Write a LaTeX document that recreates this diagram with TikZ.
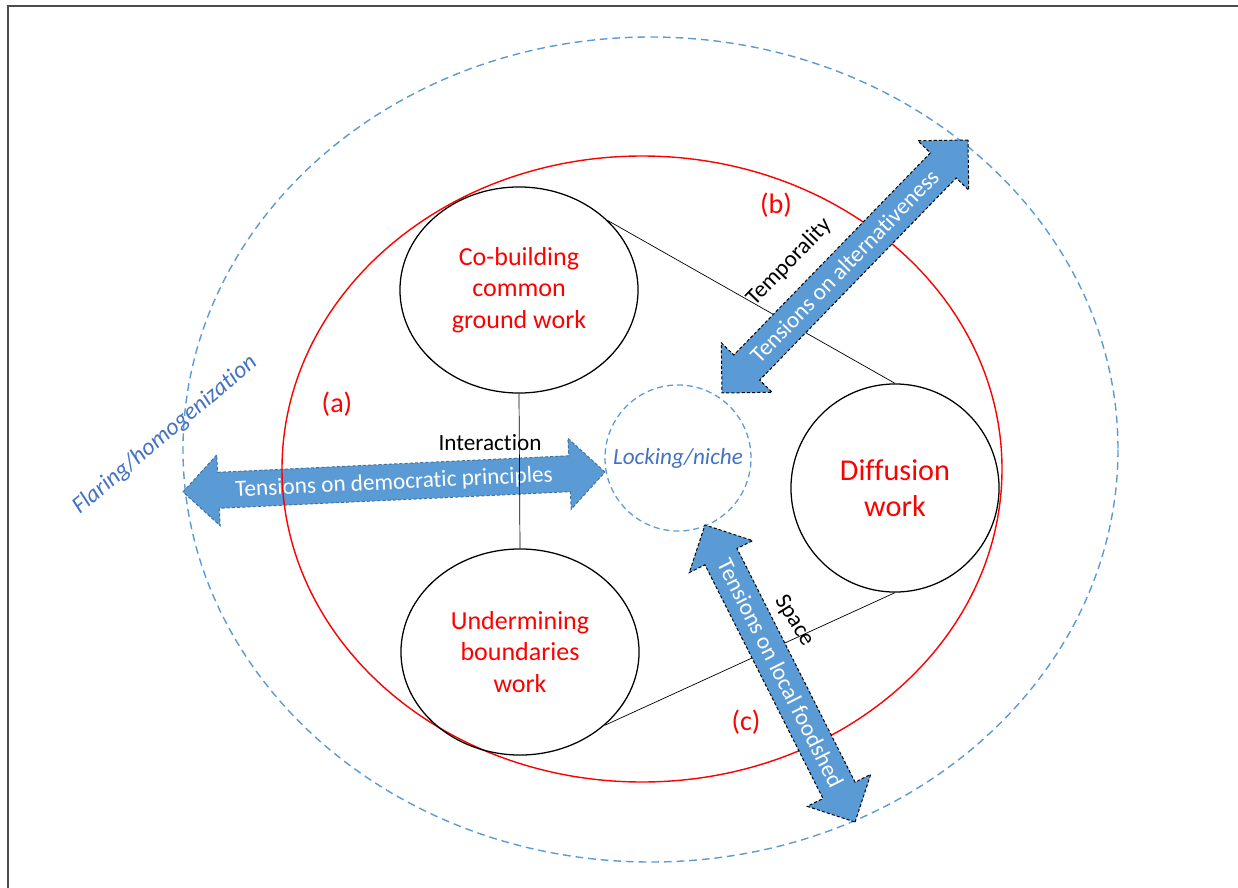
\documentclass[tikz,border=0pt]{standalone}
\usepackage{fontspec}
\setmainfont{Carlito}[Ligatures={NoCommon,NoContextual}]
\usetikzlibrary{shapes.geometric,shapes.arrows}
\definecolor{arrowblue}{RGB}{91,155,213}
\definecolor{edgeblue}{RGB}{65,113,156}
\definecolor{textblue}{RGB}{68,114,196}
\begin{document}
\begin{tikzpicture}[x=0.025cm, y=-0.025cm,
    work/.style={draw, line width=0.9pt, ellipse, inner sep=0pt, text=red, align=center,
        minimum width=5.95cm, minimum height=5.15cm, font=\fontsize{18.5}{22.5}\selectfont},
    tensionarrow/.style={double arrow, fill=arrowblue, draw=black, dash pattern=on 2.2pt off 1.5pt,
        line width=0.7pt, double arrow head extend=0.4375cm, double arrow tip angle=90,
        inner xsep=2pt, inner ysep=0pt, text height=0.615cm, text depth=0.26cm,
        text=white, font=\fontsize{16.5}{18}\selectfont},
    mark label/.style={text=red, font=\fontsize{20}{24}\selectfont},
    side label/.style={font=\fontsize{16.5}{18}\selectfont}]
    \useasboundingbox (0,0) rectangle (1238,888);
    % Frame
    \draw[black!70, line width=1pt] (8,888) -- (8,6) -- (1238,6);
    % Outer dashed ellipse
    \draw[arrowblue, line width=1pt, dash pattern=on 5.5pt off 3.5pt] (650.5,449.5) ellipse [x radius=467.5, y radius=412.5];
    % Horizontal tension arrow (behind)
    \node[tensionarrow, draw=edgeblue, minimum height=10.56cm, rotate=2.7] (ta) at (394,482) {Tensions on democratic principles};
    % Red ellipse
    \draw[red, line width=1pt] (642,469) ellipse [x radius=360, y radius=313];
    % Work nodes
    \node[work] (cob) at (519,290) {Co-building\\common\\ground work};
    \node[work] (und) at (520,652) {Undermining\\boundaries\\work};
    \node[work, circle, minimum size=5.2cm, font=\fontsize{21.5}{26}\selectfont] (dif) at (895,488) {Diffusion\\work};
    \node[draw=arrowblue, line width=0.9pt, dash pattern=on 4.3pt off 2.8pt, circle, minimum size=3.65cm, inner sep=0pt,
        text=textblue, font=\itshape\fontsize{16.5}{18}\selectfont] (lock) at (678,458) {Locking/niche};
    % Links
    \draw[line width=0.5pt] (cob.south) -- (und.north);
    \draw[line width=0.5pt] (cob.38) -- (dif.north);
    \draw[line width=0.5pt] (und.-41) -- (dif.south);
    % Diagonal tension arrows
    \node[tensionarrow, minimum height=8.82cm, rotate=45.8] (tb) at (845,266.5) {Tensions on alternativeness};
    \node[tensionarrow, minimum height=8.32cm, rotate=-63.2] (tc) at (780,673.5) {Tensions on local foodshed};
    % Labels
    \node[mark label] (la) at (337,404) {(a)};
    \node[mark label] (lb) at (776,205) {(b)};
    \node[mark label] (lc) at (746,722) {(c)};
    \node[side label] (inter) at (490,443) {Interaction};
    \node[side label, rotate=46] (temp) at (789,262) {Temporality};
    \node[side label, rotate=-58] (space) at (794,621) {Space};
    \node[side label, text=textblue, font=\itshape\fontsize{17}{20}\selectfont, rotate=40] (flare) at (165,435) {Flaring/homogenization};
\end{tikzpicture}
\end{document}
